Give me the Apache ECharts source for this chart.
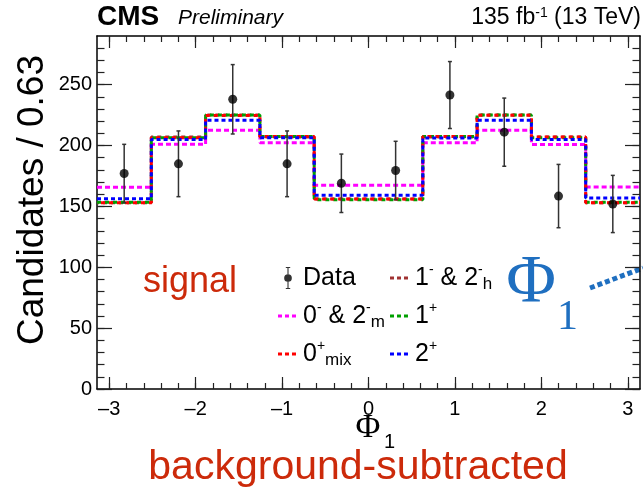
<!DOCTYPE html>
<html><head><meta charset="utf-8">
<script src="https://cdn.jsdelivr.net/npm/echarts@6/dist/echarts.min.js"></script>
<style>html,body{margin:0;padding:0;background:#fff}#c{width:643px;height:493px}</style>
</head><body><div id="c"></div>
<script>
// ---- data ----
const binCenters = [-2.827, -2.199, -1.571, -0.942, -0.314, 0.314, 0.942, 1.571, 2.199, 2.827];
const binEdges = [-3.1416, -2.5133, -1.8850, -1.2566, -0.6283, 0, 0.6283, 1.2566, 1.8850, 2.5133, 3.1416];
const dataValues = [177, 185, 238, 185, 169, 179.5, 241.5, 211, 158.5, 152];
const dataErrors = [24, 27, 28.5, 27, 24, 24, 27.5, 28, 26, 23.5];
const pred0m = [165.7, 201, 212.5, 202.4, 167.4, 167.4, 202.2, 212.5, 200.8, 166];
const pred0mix = [153, 206.5, 224.7, 207.5, 156, 156, 207.5, 224.8, 207, 153];
const pred1m = [153, 207, 225, 207, 156, 156, 207, 225, 207, 153];
const pred1p = [153.5, 206.5, 225, 207.5, 155.5, 155.5, 207.5, 225, 206.5, 153.5];
const pred2p = [156.2, 205, 220.7, 206.5, 159.2, 159.2, 206.3, 220.7, 205, 157];
const xMajorTicks = [-3, -2, -1, 0, 1, 2, 3];
const xMinorTicks = [-3, -2.8, -2.6, -2.4, -2.2, -2, -1.8, -1.6, -1.4, -1.2, -1, -0.8, -0.6, -0.4, -0.2, 0,
  0.2, 0.4, 0.6, 0.8, 1, 1.2, 1.4, 1.6, 1.8, 2, 2.2, 2.4, 2.6, 2.8, 3];
const yMajorTicks = [0, 50, 100, 150, 200, 250];
const yMinorTicks = [0, 10, 20, 30, 40, 50, 60, 70, 80, 90, 100, 110, 120, 130, 140, 150, 160, 170, 180, 190,
  200, 210, 220, 230, 240, 250, 260, 270, 280];

// ---- helpers ----
const SANS = '"Liberation Sans", Arial, Helvetica, sans-serif';
const SERIF = '"Liberation Serif", "Times New Roman", serif';
function stepData(vals) {
  return binEdges.map((e, i) => [e, vals[Math.min(i, vals.length - 1)]]);
}
const AX = '#000';
function xAx(pos, ticks, len, showLine, showLabel) {
  return {
    type: 'value', min: -Math.PI, max: Math.PI, position: pos,
    splitLine: { show: false },
    axisLine: { show: showLine, onZero: false, lineStyle: { color: AX, width: 1.5 } },
    axisTick: { show: true, inside: true, length: len, customValues: ticks, lineStyle: { color: '#222', width: 1.2 } },
    axisLabel: showLabel ? {
      show: true, customValues: xMajorTicks, margin: 10, fontSize: 20, color: '#000', fontFamily: SANS,
      formatter: v => v < 0 ? '\u2013' + Math.abs(v) : String(v)
    } : { show: false }
  };
}
function yAx(pos, ticks, len, showLine, showLabel) {
  return {
    type: 'value', min: 0, max: 290, position: pos,
    splitLine: { show: false },
    axisLine: { show: showLine, onZero: false, lineStyle: { color: AX, width: 1.5 } },
    axisTick: { show: true, inside: true, length: len, customValues: ticks, lineStyle: { color: '#222', width: 1.2 } },
    axisLabel: showLabel ? {
      show: true, customValues: yMajorTicks, margin: 5, fontSize: 20, color: '#000', fontFamily: SANS
    } : { show: false }
  };
}
function lineSeries(name, vals, color, dash, offset, z) {
  return {
    name, type: 'line', step: 'end', data: stepData(vals), symbol: 'none', z,
    xAxisIndex: 0, yAxisIndex: 0,
    lineStyle: { color, width: 3, type: dash, dashOffset: offset, cap: 'butt' },
    itemStyle: { color }
  };
}
const richNames = {
  'Data': 'Data',
  '0- & 2-m': '0{sup|-} & 2{sup|-}{sub|m}',
  '0+mix': '0{sup|+}{sub|mix}',
  '1- & 2-h': '1{sup|-} & 2{sup|-}{sub|h}',
  '1+': '1{sup|+}',
  '2+': '2{sup|+}'
};
const legendText = {
  fontSize: 25, fontFamily: SANS, color: '#000', lineHeight: 30,
  rich: {
    sup: { fontSize: 14, fontFamily: SANS, verticalAlign: 'top', lineHeight: 16 },
    sub: { fontSize: 17, fontFamily: SANS, verticalAlign: 'bottom', lineHeight: 14 }
  }
};
const dataIcon = 'path://M3,0h4v1h-4z M4.5,1h1v18h-1z M3,19h4v1h-4z M5,6.5A3.5,3.5 0 1 1 4.99,6.5z';
const dotIcon = 'path://M0,0h4v3h-4z M7,0h4v3h-4z M14,0h4v3h-4z M20,0h0.01v3h-0.01z';
function legendBox(items, left) {
  return {
    orient: 'vertical', left, top: 263, itemGap: 8, itemWidth: 20, itemHeight: 22, padding: 0,
    selectedMode: false, data: items, textStyle: legendText, icon: dotIcon,
    formatter: n => richNames[n] || n
  };
}

const chart = echarts.init(document.getElementById('c'), null, { renderer: 'canvas' });
chart.setOption({
  animation: false,
  backgroundColor: '#fff',
  grid: { left: 97, right: 3, top: 36, bottom: 104, containLabel: false },
  xAxis: [
    xAx('bottom', xMajorTicks, 12, true, true),
    xAx('bottom', xMinorTicks, 6, false, false),
    xAx('top', xMajorTicks, 12, true, false),
    xAx('top', xMinorTicks, 6, false, false)
  ],
  yAxis: [
    yAx('left', yMajorTicks, 15, true, true),
    yAx('left', yMinorTicks, 7.5, false, false),
    yAx('right', yMajorTicks, 15, true, false),
    yAx('right', yMinorTicks, 7.5, false, false)
  ],
  legend: [
    legendBox([{ name: 'Data', icon: dataIcon }, '0- & 2-m', '0+mix'], 278),
    legendBox(['1- & 2-h', '1+', '2+'], 390)
  ],
  series: [
    lineSeries('0- & 2-m', pred0m, '#ff00ff', [5, 3], 0, 2),
    lineSeries('1- & 2-h', pred1m, '#a03232', [4, 4], 2, 3),
    lineSeries('1+', pred1p, '#00a000', [4, 4], 0, 4),
    lineSeries('0+mix', pred0mix, '#ff0000', [4, 4], 4, 5),
    lineSeries('2+', pred2p, '#0000ff', [4, 3], 0, 6),
    {
      type: 'custom', z: 7, xAxisIndex: 0, yAxisIndex: 0,
      data: binCenters.map((x, i) => [x, dataValues[i], dataErrors[i]]),
      encode: { x: 0, y: 1 },
      renderItem: (params, api) => {
        const x = api.value(0), y = api.value(1), e = api.value(2);
        const top = api.coord([x, y + e]), bot = api.coord([x, y - e]);
        const st = { stroke: '#333', lineWidth: 1.5 };
        return { type: 'group', children: [
          { type: 'line', shape: { x1: top[0], y1: top[1], x2: bot[0], y2: bot[1] }, style: st },
          { type: 'line', shape: { x1: top[0] - 2, y1: top[1], x2: top[0] + 2, y2: top[1] }, style: st },
          { type: 'line', shape: { x1: bot[0] - 2, y1: bot[1], x2: bot[0] + 2, y2: bot[1] }, style: st }
        ] };
      }
    },
    {
      name: 'Data', type: 'scatter', z: 8, xAxisIndex: 0, yAxisIndex: 0,
      data: binCenters.map((x, i) => [x, dataValues[i]]),
      symbol: 'circle', symbolSize: 9, itemStyle: { color: '#000' }
    }
  ],
  graphic: [
    { type: 'text', x: 97, y: 17, style: { text: 'CMS', font: 'bold 28px ' + SANS, fill: '#000', align: 'left', verticalAlign: 'middle' } },
    { type: 'text', x: 178, y: 18, style: { text: 'Preliminary', font: 'italic 21px ' + SANS, fill: '#000', align: 'left', verticalAlign: 'middle' } },
    { type: 'text', x: 641, y: 18, style: {
        text: '135 fb{sup|-1} (13 TeV)', font: '23px ' + SANS, fill: '#000', align: 'right', verticalAlign: 'middle',
        rich: { sup: { fontSize: 14, fontFamily: SANS, verticalAlign: 'top', lineHeight: 12 } }, lineHeight: 24 } },
    { type: 'text', x: 33, y: 200, rotation: Math.PI / 2, style: { text: 'Candidates / 0.63', font: '37px ' + SANS, fill: '#000', align: 'center', verticalAlign: 'middle' } },
    { type: 'text', x: 368, y: 428, style: { text: '\u03A6', font: '34px ' + SERIF, fill: '#000', align: 'center', verticalAlign: 'middle' } },
    { type: 'text', x: 384, y: 442, style: { text: '1', font: '20px ' + SANS, fill: '#000', align: 'left', verticalAlign: 'middle' } },
    { type: 'text', x: 358, y: 468, style: { text: 'background-subtracted', font: '41px ' + SANS, fill: '#cc2a0a', align: 'center', verticalAlign: 'middle' } },
    { type: 'text', x: 190, y: 282, style: { text: 'signal', font: '36px ' + SANS, fill: '#cc2a0a', align: 'center', verticalAlign: 'middle' } },
    { type: 'text', x: 531, y: 283, style: { text: '\u03A6', font: '68px ' + SERIF, fill: '#1f6fc0', align: 'center', verticalAlign: 'middle' } },
    { type: 'text', x: 557, y: 318, style: { text: '1', font: '42px ' + SERIF, fill: '#1f6fc0', align: 'left', verticalAlign: 'middle' } },
    { type: 'line', shape: { x1: 590, y1: 288, x2: 643, y2: 268 }, style: { stroke: '#1f6fc0', lineWidth: 5, lineDash: [5, 3] } }
  ]
});
</script>
</body></html>
